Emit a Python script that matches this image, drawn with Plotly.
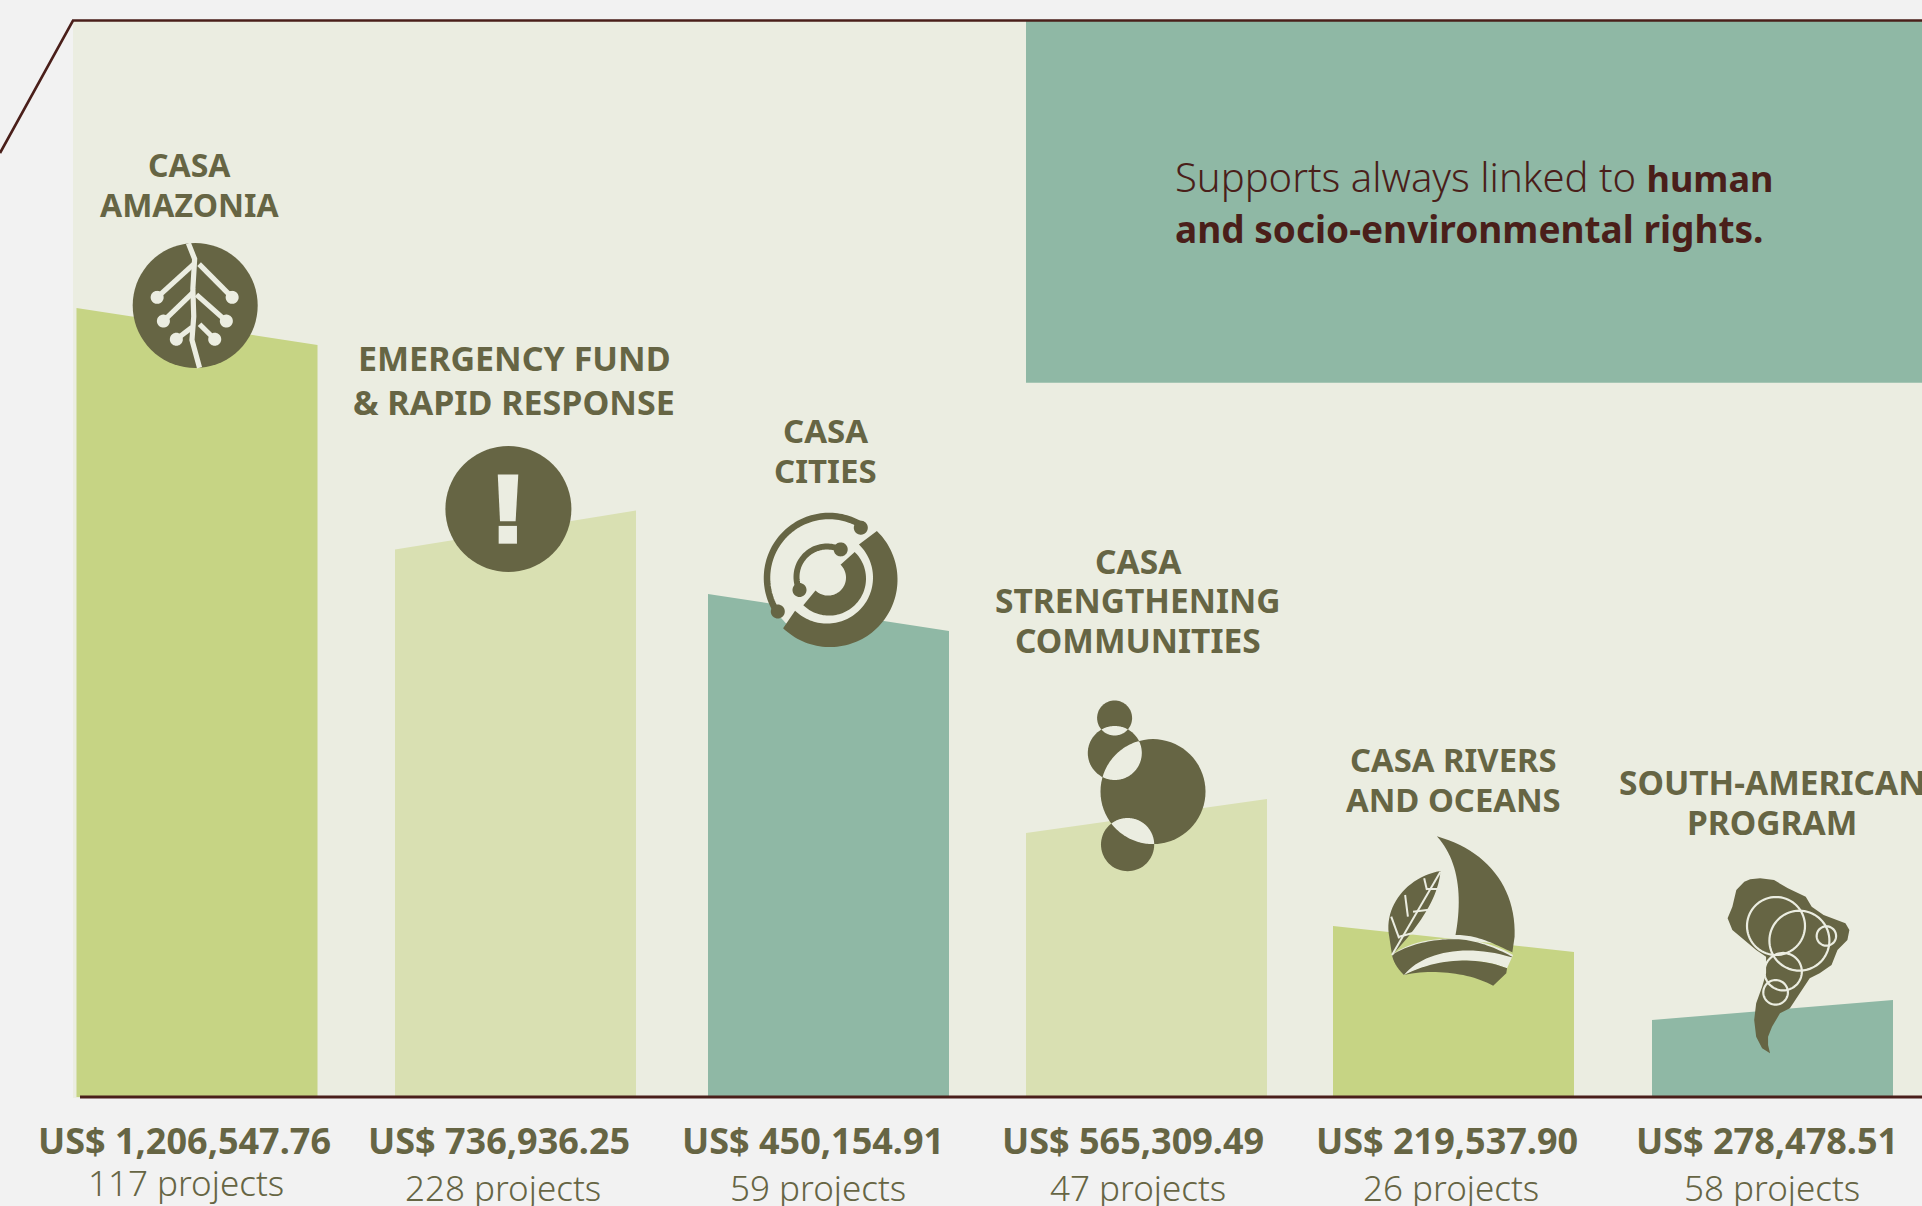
import math
import plotly.graph_objects as go

# ---------- data ----------
categories = [
    ["CASA", "AMAZONIA"],
    ["EMERGENCY FUND", "& RAPID RESPONSE"],
    ["CASA", "CITIES"],
    ["CASA", "STRENGTHENING", "COMMUNITIES"],
    ["CASA RIVERS", "AND OCEANS"],
    ["SOUTH-AMERICAN", "PROGRAM"],
]
amounts = ["US$ 1,206,547.76", "US$ 736,936.25", "US$ 450,154.91",
           "US$ 565,309.49", "US$ 219,537.90", "US$ 278,478.51"]
projects = ["117 projects", "228 projects", "59 projects",
            "47 projects", "26 projects", "58 projects"]
# visual bar heights (slanted tops) above the baseline
height_left = [789, 547.5, 503, 264, 171, 77]
height_right = [752, 586.5, 466, 298, 145, 97]

# ---------- layout constants ----------
W, H, BASE = 1922, 1206, 1097
BG, PANEL, GREEN, PALE, TEAL = "#F2F2F2", "#EBEDE1", "#C6D484", "#D9E0B2", "#8FB8A5"
TXT, DARK = "#666544", "#4A1F1A"
FONT = "Noto Sans"
bar_left = [76.5, 395, 708, 1026, 1333, 1652]
bar_w = 241
bar_colors = [GREEN, PALE, TEAL, PALE, GREEN, TEAL]
label_x = [189, 514, 825, 1138, 1453, 1772]
label_y = [[164.5, 204], [358, 402], [430, 470], [561, 600, 640], [759.5, 799], [781.5, 821.5]]
label_size = [32, 34, 33, 33.5, 32.8, 33.5]
amount_x = [184.5, 499, 813, 1133, 1447, 1767]
amount_y = 1140.5
proj_x = [186, 502.5, 817.5, 1137.6, 1451, 1772]
proj_y = [1182, 1187.5, 1187.5, 1187.5, 1187.5, 1187.5]

Y = lambda py: BASE - py
shapes = []


def poly(pts, fill=None, stroke=None, width=0, close=True, layer="above"):
    d = "M " + " L ".join(f"{x:.2f},{Y(y):.2f}" for x, y in pts) + (" Z" if close else "")
    shapes.append(dict(type="path", path=d, xref="x", yref="y", layer=layer,
                       fillcolor=fill if fill else "rgba(0,0,0,0)",
                       line=dict(color=stroke if stroke else "rgba(0,0,0,0)", width=width)))


def circ_pts(cx, cy, r, a0=0, a1=360, n=72):
    return [(cx + r * math.cos(math.radians(a0 + (a1 - a0) * i / n)),
             cy + r * math.sin(math.radians(a0 + (a1 - a0) * i / n))) for i in range(n + 1)]


def disc(cx, cy, r, fill):
    poly(circ_pts(cx, cy, r), fill)


def ring(cx, cy, r, stroke, w):
    poly(circ_pts(cx, cy, r), None, stroke, w)


def sector(cx, cy, r0, r1, a0, a1, fill, c2=None):
    c2 = c2 or (cx, cy)
    poly(circ_pts(cx, cy, r1, a0, a1) + circ_pts(c2[0], c2[1], r0, a1, a0), fill)


def bez(p0, c1, c2, p1, n=24):
    out = []
    for i in range(n + 1):
        t = i / n
        u = 1 - t
        out.append((u**3*p0[0] + 3*u*u*t*c1[0] + 3*u*t*t*c2[0] + t**3*p1[0],
                    u**3*p0[1] + 3*u*u*t*c1[1] + 3*u*t*t*c2[1] + t**3*p1[1]))
    return out


def lens(c1, r1, c2, r2, fill):
    pts1 = circ_pts(c1[0], c1[1], r1, n=240)
    pts2 = circ_pts(c2[0], c2[1], r2, n=240)
    a = [p for p in pts1 if math.dist(p, c2) <= r2]
    b = [p for p in pts2 if math.dist(p, c1) <= r1]
    cx = sum(p[0] for p in a + b) / len(a + b)
    cy = sum(p[1] for p in a + b) / len(a + b)
    poly(sorted(a + b, key=lambda p: math.atan2(p[1] - cy, p[0] - cx)), fill)


# ---------- background ----------
shapes.append(dict(type="rect", xref="x", yref="y", x0=73, x1=W, y0=Y(20.5), y1=Y(BASE + 1),
                   fillcolor=PANEL, line=dict(width=0), layer="below"))
shapes.append(dict(type="rect", xref="x", yref="y", x0=1026, x1=W, y0=Y(20.5), y1=Y(382.7),
                   fillcolor=TEAL, line=dict(width=0), layer="below"))
poly([(0, 153), (73, 20.5), (W, 20.5)], None, DARK, 2.6, close=False)
poly([(80, BASE), (W, BASE)], None, DARK, 3, close=False)

# ---------- icon 1: roots ----------
z1 = lambda v: (v[0] / 2.24, v[1] / 2.529)
disc(195.2, 305.5, 62.5, TXT)
vein = [
    [(422, 615), (436, 655), (432, 730), (434, 800), (430, 860), (447, 930)],
    [(434, 668), (352, 752)], [(446, 668), (520, 752)],
    [(432, 740), (366, 812)], [(440, 745), (507, 812)],
    [(430, 828), (395, 858)], [(447, 820), (481, 858)],
]
for v in vein:
    poly([z1(p) for p in v], None, PANEL, 5.2, close=False)
for p in [(352, 752), (520, 752), (366, 812), (507, 812), (395, 858), (481, 858)]:
    disc(*z1(p), 6.5, PANEL)

# ---------- icon 2: exclamation ----------
disc(508.4, 509, 63, TXT)
poly([z1(p) for p in [(1115, 1200), (1161, 1200), (1155, 1318), (1120, 1318)]], PANEL)
poly([z1(p) for p in [(1117, 1330), (1158, 1330), (1158, 1375), (1117, 1375)]], PANEL)

# ---------- icon 3: city rings ----------
cx3, cy3 = 830, 579.6
disc(cx3 - 1, cy3 - 1, 62, PANEL)
sector(cx3, cy3, 46, 67.5, -46, 134, TXT, c2=(cx3 - 3, cy3 - 2))
poly(circ_pts(829, 578, 62, -59, -213, n=72), None, TXT, 6.5, close=False)
sector(cx3 - 1, cy3 - 1, 18, 37, -46, 134, TXT, c2=(cx3 - 2, cy3 - 2))
poly(circ_pts(827, 577, 30.5, -64, -205, n=48), None, TXT, 6, close=False)
for p in [(860.8, 527.7), (777.8, 611.5), (840.7, 549.4), (799.5, 590)]:
    disc(p[0], p[1], 7, TXT)

# ---------- icon 4: bubbles ----------
c_big, c_top, c_mid, c_bot = (1153, 791.6), (1114.6, 718), (1114.8, 753), (1127.6, 844.6)
r_big, r_top, r_mid, r_bot = 52.5, 17.5, 27, 26.6
for c, r in [(c_big, r_big), (c_top, r_top), (c_mid, r_mid), (c_bot, r_bot)]:
    disc(c[0], c[1], r, TXT)
lens(c_big, r_big, c_mid, r_mid, PANEL)
lens(c_big, r_big, c_bot, r_bot, PANEL)
lens(c_top, r_top, c_mid, r_mid, PANEL)

# ---------- icon 5: boat and leaf ----------
z3 = lambda v: (1300 + v[0] / 2.521, 720 + v[1] / 3)


def zb(*pts):
    return bez(*[z3(p) for p in pts])


# light backing that shows as the stripes of the hull
poly(zb((232, 705), (300, 640), (450, 640), (537, 705)) + [z3((522, 745))]
     + zb((522, 745), (450, 710), (350, 715), (262, 765)), PANEL)
poly(zb((345, 349), (470, 390), (545, 500), (541, 650)) + [z3((535, 700))]
     + zb((535, 697), (470, 660), (440, 645), (392, 645))
     + zb((392, 645), (410, 530), (400, 420), (345, 349)), TXT)
poly(zb((232, 705), (280, 668), (350, 655), (400, 658)) + zb((400, 658), (450, 662), (495, 685), (535, 710))
     + zb((533, 712), (420, 670), (310, 695), (262, 765)) + zb((262, 765), (245, 745), (235, 725), (232, 705)), TXT)
poly(zb((262, 765), (350, 712), (450, 710), (522, 745)) + [z3((520, 760))]
     + zb((487, 797), (430, 760), (340, 745), (262, 765)), TXT)
poly(zb((354, 453), (270, 470), (210, 560), (225, 650)) + [z3((232, 705))]
     + zb((232, 705), (300, 620), (350, 530), (354, 453)), TXT)
for v in [[(354, 455), (232, 705)], [(320, 507), (350, 507)], [(313, 475), (320, 510)],
          [(285, 575), (335, 568)], [(265, 525), (272, 590)], [(250, 650), (305, 632)],
          [(230, 590), (250, 655)]]:
    poly([z3(p) for p in v], None, PANEL, 2, close=False)

# ---------- icon 6: South America ----------
outline = [(1135, 478), (1160, 475), (1195, 480), (1230, 505), (1275, 530), (1290, 560), (1320, 585),
           (1375, 610), (1385, 630), (1380, 660), (1355, 690), (1340, 735), (1310, 760), (1285, 775),
           (1260, 820), (1235, 865), (1210, 880), (1190, 920), (1180, 950), (1180, 975), (1185, 1000),
           (1165, 985), (1150, 950), (1145, 900), (1150, 850), (1165, 800), (1175, 760), (1175, 710),
           (1150, 690), (1120, 660), (1090, 630), (1078, 595), (1090, 560), (1100, 510), (1120, 485)]
poly([z3(p) for p in outline], TXT)
for (vx, vy, r) in [(1200, 618, 29), (1259, 662, 30), (1327, 648, 9.7), (1218, 755, 18.7), (1199, 817, 12.3)]:
    cc = z3((vx, vy))
    ring(cc[0], cc[1], r, PANEL, 2.2)

# ---------- bars ----------
fig = go.Figure()
for i in range(6):
    x0, x1 = bar_left[i], bar_left[i] + bar_w
    fig.add_trace(go.Scatter(
        x=[x0, x0, x1, x1, x0], y=[0, height_left[i], height_right[i], 0, 0],
        mode="lines", fill="toself", fillcolor=bar_colors[i], line=dict(width=0),
        name=" ".join(categories[i]), hoverinfo="name", showlegend=False))

# ---------- texts ----------
ann = []


def text(x, py, s, size, color=TXT, anchor="center", weight=400):
    ann.append(dict(x=x, y=Y(py), xref="x", yref="y", text=s, showarrow=False, xanchor=anchor,
                    yanchor="middle", align=anchor if anchor != "center" else "center",
                    font=dict(family=FONT, size=size, color=color, weight=weight)))


for i, lines in enumerate(categories):
    for ln, py in zip(lines, label_y[i]):
        text(label_x[i], py, ln, label_size[i], weight=700)
for i in range(6):
    text(amount_x[i], amount_y, amounts[i], 36, weight=700)
    text(proj_x[i], proj_y[i], projects[i], 35, weight=300)
text(1173, 176, 'Supports always linked to <span style="font-size:36px"><b>human</b></span>', 40, DARK, "left", 300)
text(1173, 228, "<b>and socio-environmental rights.</b>", 37, DARK, "left", 400)

fig.update_layout(
    width=W, height=H, margin=dict(l=0, r=0, t=0, b=0), autosize=False,
    paper_bgcolor=BG, plot_bgcolor=BG, showlegend=False,
    xaxis=dict(range=[0, W], visible=False, fixedrange=True),
    yaxis=dict(range=[BASE - H, BASE], visible=False, fixedrange=True),
    shapes=shapes, annotations=ann,
)
fig.write_html("out.html", config=dict(displayModeBar=False),
               post_script="document.body.style.margin='0';document.body.style.background='#F2F2F2';")
